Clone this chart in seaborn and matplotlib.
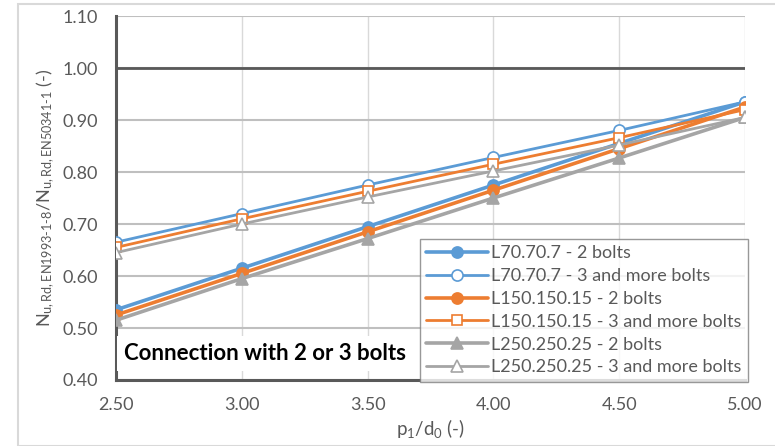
import matplotlib
matplotlib.use("Agg")
import matplotlib.pyplot as plt
import pandas as pd
import seaborn as sns

# ratio p1/d0 on the x axis
p1_d0 = [2.5, 3.0, 3.5, 4.0, 4.5, 5.0]

# resistance ratio for each angle section / bolt count
l70_2 = [0.535, 0.615, 0.695, 0.775, 0.855, 0.935]
l70_3 = [0.665, 0.720, 0.775, 0.828, 0.880, 0.935]
l150_2 = [0.525, 0.605, 0.685, 0.765, 0.845, 0.925]
l150_3 = [0.655, 0.710, 0.763, 0.815, 0.866, 0.920]
l250_2 = [0.515, 0.595, 0.672, 0.750, 0.827, 0.905]
l250_3 = [0.645, 0.700, 0.752, 0.802, 0.852, 0.905]

series_names = ['L70.70.7 - 2 bolts', 'L70.70.7 - 3 and more bolts',
                'L150.150.15 - 2 bolts', 'L150.150.15 - 3 and more bolts',
                'L250.250.25 - 2 bolts', 'L250.250.25 - 3 and more bolts']
series_values = [l70_2, l70_3, l150_2, l150_3, l250_2, l250_3]

y_ticks = [0.40, 0.50, 0.60, 0.70, 0.80, 0.90, 1.00, 1.10]

rows = []
for name, vals in zip(series_names, series_values):
    for x, v in zip(p1_d0, vals):
        rows.append({'p1/d0': x, 'ratio': v, 'series': name})
df = pd.DataFrame(rows)

blue, orange, grey = '#5B9BD5', '#ED7D31', '#A5A5A5'
styles = {
    series_names[0]: dict(color=blue, marker='o', mfc=blue, lw=2.6, ms=8),
    series_names[1]: dict(color=blue, marker='o', mfc='white', lw=2.0, ms=8),
    series_names[2]: dict(color=orange, marker='o', mfc=orange, lw=2.6, ms=8),
    series_names[3]: dict(color=orange, marker='s', mfc='white', lw=2.0, ms=7),
    series_names[4]: dict(color=grey, marker='^', mfc=grey, lw=2.6, ms=8),
    series_names[5]: dict(color=grey, marker='^', mfc='white', lw=2.0, ms=8),
}

sns.set_theme(style="white")
plt.rcParams['font.family'] = ['Lato', 'DejaVu Sans']
plt.rcParams['mathtext.fontset'] = 'custom'
plt.rcParams['mathtext.rm'] = 'Lato'
plt.rcParams['mathtext.it'] = 'Lato'

fig = plt.figure(figsize=(7.75, 4.46), dpi=100)
ax = fig.add_axes([0.1497, 0.148, 0.8116, 0.816])

for name in series_names:
    st = styles[name]
    sub = df[df['series'] == name]
    sns.lineplot(data=sub, x='p1/d0', y='ratio', ax=ax, color=st['color'],
                 linewidth=st['lw'], marker=st['marker'], markersize=st['ms'],
                 markerfacecolor=st['mfc'], markeredgecolor=st['color'],
                 markeredgewidth=1.2, label=name, zorder=3)

ax.set_xlim(2.5, 5.0)
ax.set_ylim(0.40, 1.10)
ax.set_yticks(y_ticks)
ax.set_xticks(p1_d0)
ax.set_yticklabels([f'{t:.2f}' for t in y_ticks])
ax.set_xticklabels([f'{t:.2f}' for t in p1_d0])
ax.tick_params(axis='both', labelsize=13, colors='#595959', length=0)
ax.tick_params(axis='y', pad=13)
ax.tick_params(axis='x', pad=12)

# gridlines
ax.yaxis.grid(True, color='#BFBFBF', linewidth=1.5, zorder=0)
ax.xaxis.grid(True, color='#D9D9D9', linewidth=1.0, zorder=0)
ax.set_axisbelow(True)
ax.axhline(1.0, color='#595959', linewidth=2.0, zorder=2)
for s in ['top', 'right']:
    ax.spines[s].set_visible(False)
for s in ['left', 'bottom']:
    ax.spines[s].set_color('#595959')
    ax.spines[s].set_linewidth(2.2)

ax.set_xlabel(r'p$_1$/d$_0$ (-)', fontsize=13.5, color='#595959', labelpad=3)
ax.set_ylabel(r'N$_{\mathrm{u,Rd,EN1993\text{-}1\text{-}8}}$/'
              r'N$_{\mathrm{u,Rd,EN50341\text{-}1}}$ (-)',
              fontsize=13, color='#595959', labelpad=4)

ax.text(2.53, 0.438, 'Connection with 2 or 3 bolts', fontsize=16,
        fontweight='bold', color='black', zorder=4,
        bbox=dict(facecolor='white', edgecolor='none', pad=5))

leg = ax.legend(loc='lower right', bbox_to_anchor=(1.005, -0.005),
                borderaxespad=0, fontsize=13, frameon=True, fancybox=False,
                handlelength=3.4, handletextpad=0.2, labelspacing=0.38,
                borderpad=0.35, labelcolor='#595959')
leg.get_frame().set_edgecolor('#7F7F7F')
leg.get_frame().set_linewidth(1.0)
leg.set_zorder(5)

# outer chart frame
fig.patches.append(plt.Rectangle((18 / 775, 0.0), 1.0, 1 - 4 / 446,
                                 transform=fig.transFigure, fill=False,
                                 edgecolor='#D9D9D9', linewidth=1.5))

fig.savefig('out.png', dpi=100)
